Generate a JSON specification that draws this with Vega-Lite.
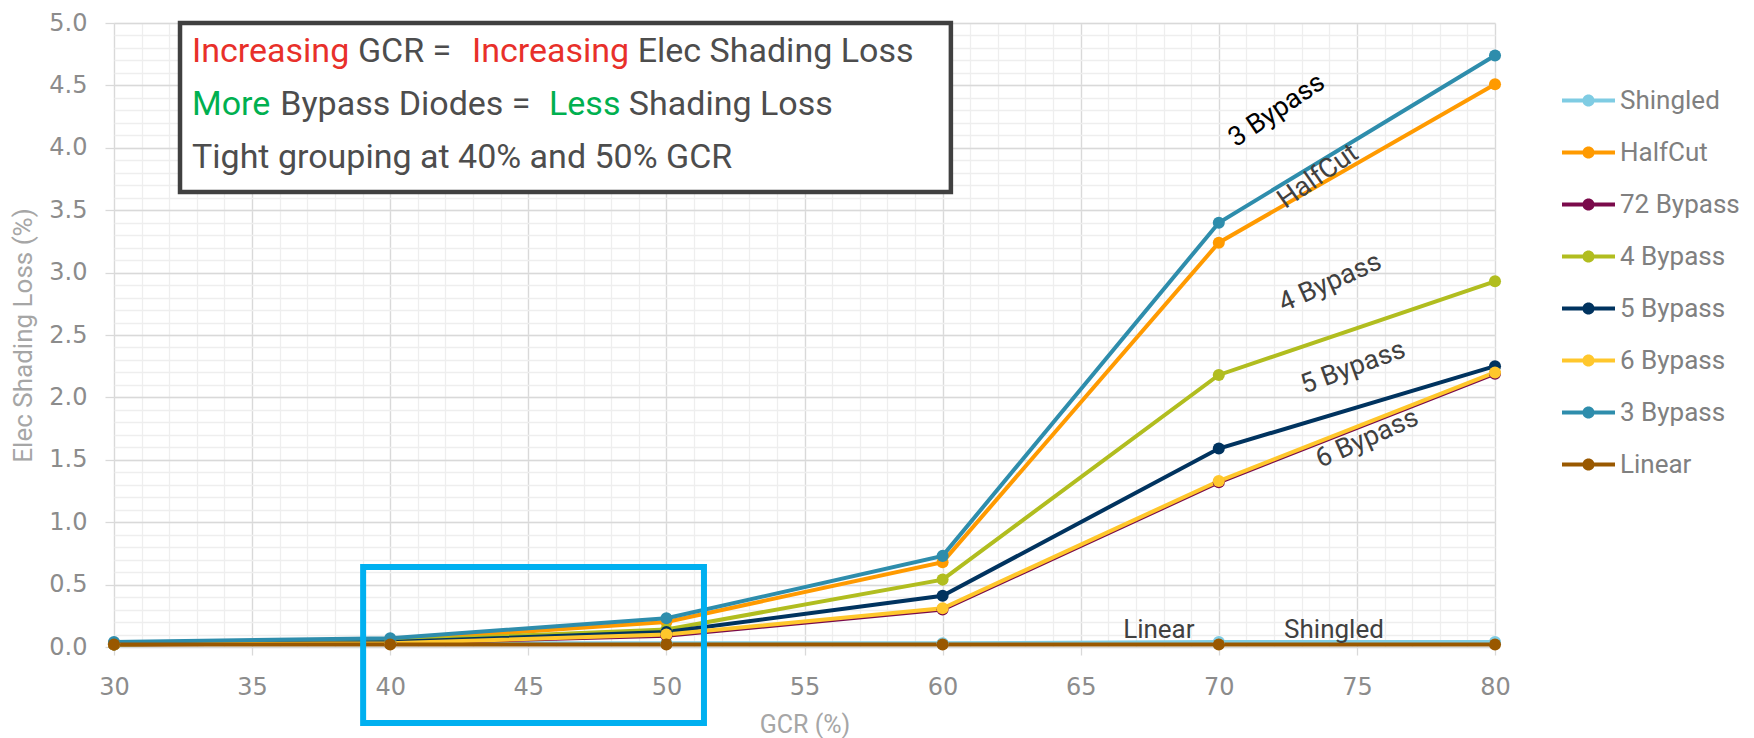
{
  "$schema": "https://vega.github.io/schema/vega-lite/v6.json",
  "width": 1381,
  "height": 624,
  "autosize": {"type": "none"},
  "padding": {"left": 114, "top": 23, "right": 259, "bottom": 91},
  "background": "white",
  "config": {"view": {"stroke": null}, "font": "Roboto"},
  "datasets": {
    "loss": [
      {"series": "Shingled", "gcr": 30, "loss": 0.03}, {"series": "Shingled", "gcr": 40, "loss": 0.03}, {"series": "Shingled", "gcr": 50, "loss": 0.03}, {"series": "Shingled", "gcr": 60, "loss": 0.03}, {"series": "Shingled", "gcr": 70, "loss": 0.04}, {"series": "Shingled", "gcr": 80, "loss": 0.04},
      {"series": "HalfCut", "gcr": 30, "loss": 0.03}, {"series": "HalfCut", "gcr": 40, "loss": 0.05}, {"series": "HalfCut", "gcr": 50, "loss": 0.2}, {"series": "HalfCut", "gcr": 60, "loss": 0.68}, {"series": "HalfCut", "gcr": 70, "loss": 3.24}, {"series": "HalfCut", "gcr": 80, "loss": 4.51},
      {"series": "72 Bypass", "gcr": 30, "loss": 0.02}, {"series": "72 Bypass", "gcr": 40, "loss": 0.03}, {"series": "72 Bypass", "gcr": 50, "loss": 0.09}, {"series": "72 Bypass", "gcr": 60, "loss": 0.3}, {"series": "72 Bypass", "gcr": 70, "loss": 1.32}, {"series": "72 Bypass", "gcr": 80, "loss": 2.19},
      {"series": "4 Bypass", "gcr": 30, "loss": 0.02}, {"series": "4 Bypass", "gcr": 40, "loss": 0.05}, {"series": "4 Bypass", "gcr": 50, "loss": 0.14}, {"series": "4 Bypass", "gcr": 60, "loss": 0.54}, {"series": "4 Bypass", "gcr": 70, "loss": 2.18}, {"series": "4 Bypass", "gcr": 80, "loss": 2.93},
      {"series": "5 Bypass", "gcr": 30, "loss": 0.02}, {"series": "5 Bypass", "gcr": 40, "loss": 0.04}, {"series": "5 Bypass", "gcr": 50, "loss": 0.12}, {"series": "5 Bypass", "gcr": 60, "loss": 0.41}, {"series": "5 Bypass", "gcr": 70, "loss": 1.59}, {"series": "5 Bypass", "gcr": 80, "loss": 2.25},
      {"series": "6 Bypass", "gcr": 30, "loss": 0.02}, {"series": "6 Bypass", "gcr": 40, "loss": 0.03}, {"series": "6 Bypass", "gcr": 50, "loss": 0.1}, {"series": "6 Bypass", "gcr": 60, "loss": 0.31}, {"series": "6 Bypass", "gcr": 70, "loss": 1.33}, {"series": "6 Bypass", "gcr": 80, "loss": 2.2},
      {"series": "3 Bypass", "gcr": 30, "loss": 0.04}, {"series": "3 Bypass", "gcr": 40, "loss": 0.07}, {"series": "3 Bypass", "gcr": 50, "loss": 0.23}, {"series": "3 Bypass", "gcr": 60, "loss": 0.73}, {"series": "3 Bypass", "gcr": 70, "loss": 3.4}, {"series": "3 Bypass", "gcr": 80, "loss": 4.74},
      {"series": "Linear", "gcr": 30, "loss": 0.02}, {"series": "Linear", "gcr": 40, "loss": 0.02}, {"series": "Linear", "gcr": 50, "loss": 0.02}, {"series": "Linear", "gcr": 60, "loss": 0.02}, {"series": "Linear", "gcr": 70, "loss": 0.02}, {"series": "Linear", "gcr": 80, "loss": 0.02}
    ]
  },
  "data": {"name": "loss"},
  "resolve": {"axis": {"x": "independent", "y": "independent"}},
  "layer": [
    {
      "mark": {"type": "point", "opacity": 0},
      "encoding": {
        "x": {"field": "gcr", "type": "quantitative", "scale": {"domain": [30, 80], "nice": false, "zero": false},
          "axis": {"orient": "bottom", "values": [30,31,32,33,34,35,36,37,38,39,40,41,42,43,44,45,46,47,48,49,50,51,52,53,54,55,56,57,58,59,60,61,62,63,64,65,66,67,68,69,70,71,72,73,74,75,76,77,78,79,80], "grid": true, "gridColor": "#eeeeee", "gridWidth": 1.3, "labels": false, "ticks": false, "domain": false, "title": null}},
        "y": {"field": "loss", "type": "quantitative", "scale": {"domain": [0, 5], "nice": false},
          "axis": {"orient": "left", "values": [0,0.1,0.2,0.3,0.4,0.5,0.6,0.7,0.8,0.9,1,1.1,1.2,1.3,1.4,1.5,1.6,1.7,1.8,1.9,2,2.1,2.2,2.3,2.4,2.5,2.6,2.7,2.8,2.9,3,3.1,3.2,3.3,3.4,3.5,3.6,3.7,3.8,3.9,4,4.1,4.2,4.3,4.4,4.5,4.6,4.7,4.8,4.9,5], "grid": true, "gridColor": "#eeeeee", "gridWidth": 1.3, "labels": false, "ticks": false, "domain": false, "title": null}}
      }
    },
    {
      "layer": [
        {
          "mark": {"type": "line", "strokeWidth": 4},
          "encoding": {
            "x": {"field": "gcr", "type": "quantitative", "scale": {"domain": [30, 80], "nice": false, "zero": false},
              "axis": {"orient": "bottom", "title": "GCR (%)", "values": [30,35,40,45,50,55,60,65,70,75,80], "grid": true, "gridColor": "#d9d9d9", "gridWidth": 1.3, "domain": false, "tickColor": "#d9d9d9", "tickWidth": 1.3, "tickSize": 8, "labelPadding": 20, "labelFont": "DejaVu Sans", "labelFontSize": 24, "labelColor": "#8c8c8c", "labelFlush": false, "titleFont": "Roboto", "titleFontSize": 25, "titleFontWeight": "normal", "titleColor": "#a6a6a6", "titlePadding": 13}},
            "y": {"field": "loss", "type": "quantitative", "scale": {"domain": [0, 5], "nice": false},
              "axis": {"orient": "left", "title": "Elec Shading Loss (%)", "values": [0,0.5,1,1.5,2,2.5,3,3.5,4,4.5,5], "format": ".1f", "grid": true, "gridColor": "#d9d9d9", "gridWidth": 1.3, "domain": false, "tickColor": "#d9d9d9", "tickWidth": 1.3, "tickSize": 9, "labelPadding": 18, "labelFont": "DejaVu Sans", "labelFontSize": 24, "labelColor": "#8c8c8c", "labelFlush": false, "titleFont": "Roboto", "titleFontSize": 26, "titleFontWeight": "normal", "titleColor": "#a6a6a6", "titlePadding": 12}},
            "color": {"field": "series", "type": "nominal",
              "scale": {"domain": ["Shingled", "HalfCut", "72 Bypass", "4 Bypass", "5 Bypass", "6 Bypass", "3 Bypass", "Linear"],
                        "range": ["#7FCCE3", "#FF9A00", "#7A0A4B", "#B1BD1F", "#00335F", "#FFC72C", "#2E8DAC", "#995800"]},
              "legend": {"orient": "none", "legendX": 1448, "legendY": 51, "title": null, "padding": 0,
                "symbolType": "M-1,-0.075L1,-0.075L1,0.075L-1,0.075Z M0.23,0A0.23,0.23,0,1,1,-0.23,0A0.23,0.23,0,1,1,0.23,0Z",
                "symbolSize": 2809, "symbolStrokeWidth": 0, "labelFont": "Roboto", "labelFontSize": 26, "labelColor": "#808080", "labelOffset": 5, "rowPadding": 12,
                "encode": {"symbols": {"update": {"fill": {"scale": "color", "field": "value"}, "opacity": {"value": 1}, "strokeWidth": {"value": 0}}}}}},
            "order": {"field": "gcr"}
          }
        },
        {
          "mark": {"type": "point", "filled": true, "size": 145, "opacity": 1},
          "encoding": {
            "x": {"field": "gcr", "type": "quantitative"},
            "y": {"field": "loss", "type": "quantitative"},
            "color": {"field": "series", "type": "nominal"}
          }
        },
        {
          "data": {"values": [{"t": "3 Bypass"}]},
          "mark": {"type": "text", "angle": -34, "fontSize": 27, "color": "#000000", "align": "center", "baseline": "middle"},
          "encoding": {"x": {"datum": 72.1}, "y": {"datum": 4.3}, "text": {"field": "t"}}
        },
        {
          "data": {"values": [{"t": "HalfCut"}]},
          "mark": {"type": "text", "angle": -35, "fontSize": 27, "color": "#404040", "align": "center", "baseline": "middle"},
          "encoding": {"x": {"datum": 73.59}, "y": {"datum": 3.77}, "text": {"field": "t"}}
        },
        {
          "data": {"values": [{"t": "4 Bypass"}]},
          "mark": {"type": "text", "angle": -24, "fontSize": 27, "color": "#404040", "align": "center", "baseline": "middle"},
          "encoding": {"x": {"datum": 74.03}, "y": {"datum": 2.92}, "text": {"field": "t"}}
        },
        {
          "data": {"values": [{"t": "5 Bypass"}]},
          "mark": {"type": "text", "angle": -20, "fontSize": 27, "color": "#404040", "align": "center", "baseline": "middle"},
          "encoding": {"x": {"datum": 74.86}, "y": {"datum": 2.24}, "text": {"field": "t"}}
        },
        {
          "data": {"values": [{"t": "6 Bypass"}]},
          "mark": {"type": "text", "angle": -24, "fontSize": 27, "color": "#404040", "align": "center", "baseline": "middle"},
          "encoding": {"x": {"datum": 75.37}, "y": {"datum": 1.67}, "text": {"field": "t"}}
        },
        {
          "data": {"values": [{"t": "Linear"}]},
          "mark": {"type": "text", "fontSize": 26, "color": "#404040", "align": "center", "baseline": "middle"},
          "encoding": {"x": {"datum": 67.83}, "y": {"datum": 0.14}, "text": {"field": "t"}}
        },
        {
          "data": {"values": [{"t": "Shingled"}]},
          "mark": {"type": "text", "fontSize": 26, "color": "#404040", "align": "center", "baseline": "middle"},
          "encoding": {"x": {"datum": 74.17}, "y": {"datum": 0.14}, "text": {"field": "t"}}
        },
        {
          "data": {"values": [{"t": "box"}]},
          "mark": {"type": "rect", "fill": "white", "stroke": "#404040", "strokeWidth": 4.5},
          "encoding": {"x": {"datum": 32.39}, "x2": {"datum": 60.3}, "y": {"datum": 5.0}, "y2": {"datum": 3.646}}
        },
        {
          "data": {"values": [{"t": "Increasing"}]},
          "mark": {"type": "text", "fontSize": 34, "color": "#E8302A", "align": "left", "baseline": "alphabetic"},
          "encoding": {"x": {"datum": 32.824}, "y": {"datum": 4.688}, "text": {"field": "t"}}
        },
        {
          "data": {"values": [{"t": "GCR ="}]},
          "mark": {"type": "text", "fontSize": 34, "color": "#4d4d4d", "align": "left", "baseline": "alphabetic"},
          "encoding": {"x": {"datum": 38.83}, "y": {"datum": 4.688}, "text": {"field": "t"}}
        },
        {
          "data": {"values": [{"t": "Increasing"}]},
          "mark": {"type": "text", "fontSize": 34, "color": "#E8302A", "align": "left", "baseline": "alphabetic"},
          "encoding": {"x": {"datum": 42.961}, "y": {"datum": 4.688}, "text": {"field": "t"}}
        },
        {
          "data": {"values": [{"t": "Elec Shading Loss"}]},
          "mark": {"type": "text", "fontSize": 34, "color": "#4d4d4d", "align": "left", "baseline": "alphabetic"},
          "encoding": {"x": {"datum": 48.96}, "y": {"datum": 4.688}, "text": {"field": "t"}}
        },
        {
          "data": {"values": [{"t": "More"}]},
          "mark": {"type": "text", "fontSize": 34, "color": "#00B050", "align": "left", "baseline": "alphabetic"},
          "encoding": {"x": {"datum": 32.824}, "y": {"datum": 4.263}, "text": {"field": "t"}}
        },
        {
          "data": {"values": [{"t": "Bypass Diodes ="}]},
          "mark": {"type": "text", "fontSize": 34, "color": "#4d4d4d", "align": "left", "baseline": "alphabetic"},
          "encoding": {"x": {"datum": 36.02}, "y": {"datum": 4.263}, "text": {"field": "t"}}
        },
        {
          "data": {"values": [{"t": "Less"}]},
          "mark": {"type": "text", "fontSize": 34, "color": "#00B050", "align": "left", "baseline": "alphabetic"},
          "encoding": {"x": {"datum": 45.75}, "y": {"datum": 4.263}, "text": {"field": "t"}}
        },
        {
          "data": {"values": [{"t": "Shading Loss"}]},
          "mark": {"type": "text", "fontSize": 34, "color": "#4d4d4d", "align": "left", "baseline": "alphabetic"},
          "encoding": {"x": {"datum": 48.64}, "y": {"datum": 4.263}, "text": {"field": "t"}}
        },
        {
          "data": {"values": [{"t": "Tight grouping at 40% and 50% GCR"}]},
          "mark": {"type": "text", "fontSize": 34, "color": "#4d4d4d", "align": "left", "baseline": "alphabetic"},
          "encoding": {"x": {"datum": 32.824}, "y": {"datum": 3.838}, "text": {"field": "t"}}
        },
        {
          "data": {"values": [{"t": "zoom"}]},
          "mark": {"type": "rect", "fill": null, "fillOpacity": 0, "stroke": "#00B0F0", "strokeWidth": 6},
          "encoding": {"x": {"datum": 39.02}, "x2": {"datum": 51.36}, "y": {"datum": 0.641}, "y2": {"datum": -0.609}}
        }
      ]
    }
  ]
}
